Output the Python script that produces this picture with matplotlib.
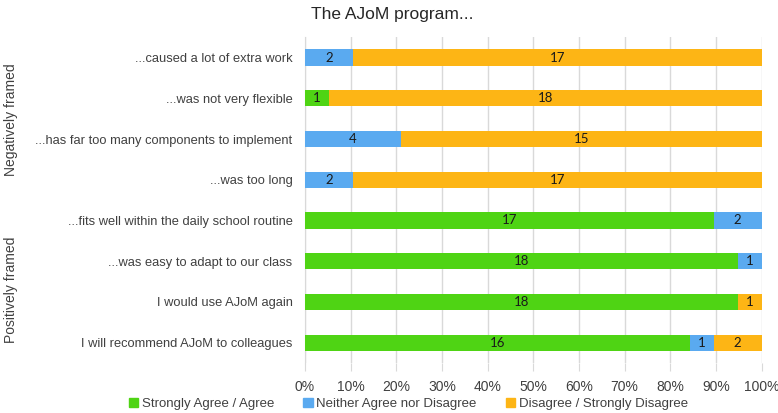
import numpy as np
import matplotlib.pyplot as plt
from matplotlib.patches import Patch
from matplotlib.ticker import PercentFormatter

categories = [
    "...caused a lot of extra work",
    "...was not very flexible",
    "...has far too many components to implement",
    "...was too long",
    "...fits well within the daily school routine",
    "...was easy to adapt to our class",
    "I would use AJoM again",
    "I will recommend AJoM to colleagues",
]
agree = [0, 1, 0, 0, 17, 18, 18, 16]
neither = [2, 0, 4, 2, 2, 1, 0, 1]
disagree = [17, 18, 15, 17, 0, 0, 1, 2]

series_names = ["Strongly Agree / Agree", "Neither Agree nor Disagree",
                "Disagree / Strongly Disagree"]
colors = ["#4fd414", "#5aaaf0", "#fdb515"]
groups = ["Negatively framed", "Positively framed"]

plt.rcParams['font.family'] = ['Liberation Sans', 'DejaVu Sans']

counts = np.array([agree, neither, disagree], dtype=float)
totals = counts.sum(axis=0)
shares = counts / totals

fig = plt.figure(figsize=(7.78, 4.13), dpi=100)
ax = fig.add_axes([0.392, 0.121, 0.587, 0.789])

y = np.arange(len(categories))
left = np.zeros(len(categories))
for i in range(3):
    ax.barh(y, shares[i], left=left, height=0.4, color=colors[i], zorder=3)
    for j in range(len(categories)):
        if counts[i, j] > 0:
            ax.text(left[j] + shares[i, j] / 2, y[j], f"{int(counts[i, j])}",
                    ha='center', va='center', fontsize=9.5, family='Lato',
                    color='#1a1a1a', zorder=4)
    left += shares[i]

ax.set_ylim(len(categories) - 0.5, -0.5)
ax.set_xlim(0, 1)
ax.set_xticks(np.arange(0, 1.01, 0.1))
ax.xaxis.set_major_formatter(PercentFormatter(1.0, decimals=0))
ax.set_yticks(y)
ax.set_yticklabels(categories, fontsize=9.3, color='#404040')
ax.tick_params(axis='y', length=0, pad=9)
ax.tick_params(axis='x', length=6, color='#d9d9d9', labelsize=10,
               labelcolor='#404040', pad=6)
ax.grid(axis='x', color='#d9d9d9', linewidth=1, zorder=0)
for s in ['top', 'right', 'bottom']:
    ax.spines[s].set_visible(False)
ax.spines['left'].set_color('#d9d9d9')

fig.text(0.504, 0.965, "The AJoM program...", ha='center', va='center',
         fontsize=12.5, color='#262626')
fig.text(0.014, 1 - 120 / 413, groups[0], rotation=90, ha='center',
         va='center', fontsize=10, color='#404040')
fig.text(0.014, 1 - 290 / 413, groups[1], rotation=90, ha='center',
         va='center', fontsize=10, color='#404040')

handles = [Patch(color=c) for c in colors]
fig.legend(handles, series_names, loc='center', bbox_to_anchor=(0.525, 0.022),
           ncol=3, frameon=False, fontsize=9.5, handlelength=0.7,
           handleheight=0.7, handletextpad=0.3, columnspacing=2.2,
           labelcolor='#404040')

fig.savefig("out.png", dpi=100)
